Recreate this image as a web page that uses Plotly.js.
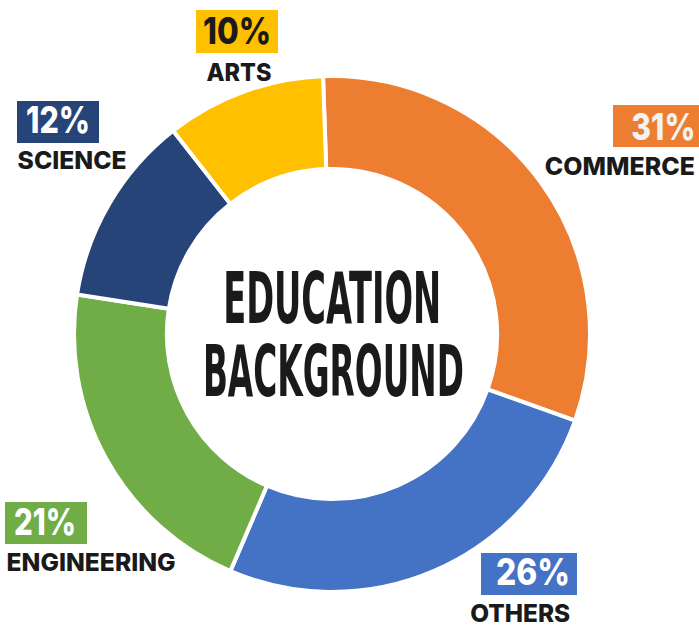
<!DOCTYPE html>
<html>
<head>
<meta charset="utf-8">
<script src="https://cdn.plot.ly/plotly-3.0.1.min.js"></script>
<style>
  html, body { margin: 0; padding: 0; background: #ffffff; }
  #chart { width: 699px; height: 625px; }
</style>
</head>
<body>
<div id="chart"></div>
<script>
// ---- data ----
const categories = ['COMMERCE', 'OTHERS', 'ENGINEERING', 'SCIENCE', 'ARTS'];
const shares = [31, 26, 21, 12, 10];
const sliceColors = ['#ED7D31', '#4472C4', '#70AD47', '#264478', '#FFC000'];
const pctTextColors = ['#F2F2F2', '#FFFFFF', '#FFFFFF', '#FFFFFF', '#1A1A1A'];
const centerLines = ['EDUCATION', 'BACKGROUND'];

// ---- layout helpers (pixel placement of the label blocks) ----
const W = 699, H = 625;
const px = x => x / W;
const py = y => 1 - y / H;

// per-category label placement: box [x0,x1,y0,y1], pct text center/width, name text center/width
const labelPlace = [
  { box: [613, 699, 105, 147], pct: [663, 126.5, 64], name: [620, 166.5, 150] },
  { box: [481, 577, 553, 595], pct: [533, 571.5, 74], name: [520, 613, 100] },
  { box: [5, 87, 502, 544],    pct: [45, 521, 62],    name: [90.5, 562, 169] },
  { box: [17, 99, 101, 143],   pct: [58, 119, 64],    name: [71.5, 160.5, 109] },
  { box: [196, 278, 10, 53],   pct: [237, 30.5, 68],  name: [238.5, 71.5, 65] }
];
const centerPlace = [[332, 298.5, 218], [333.5, 372, 261]];

const labelFont = 'Inter, "Open Sans", Roboto, sans-serif';
const centerFont = '"Liberation Sans Narrow", "DejaVu Sans Condensed", "Liberation Sans", sans-serif';

const shapes = [];
const annotations = [];
const textWidths = [];

categories.forEach((cat, i) => {
  const p = labelPlace[i];
  shapes.push({
    type: 'rect', xref: 'paper', yref: 'paper',
    x0: px(p.box[0]), x1: px(p.box[1]), y0: py(p.box[3]), y1: py(p.box[2]),
    fillcolor: sliceColors[i], line: { width: 0 }, layer: 'above'
  });
  annotations.push({
    xref: 'paper', yref: 'paper', x: px(p.pct[0]), y: py(p.pct[1]),
    xanchor: 'center', yanchor: 'middle', showarrow: false,
    text: shares[i] + '%',
    font: { family: labelFont, size: 37, color: pctTextColors[i], weight: 800 }
  });
  textWidths.push(p.pct[2]);
  annotations.push({
    xref: 'paper', yref: 'paper', x: px(p.name[0]), y: py(p.name[1]),
    xanchor: 'center', yanchor: 'middle', showarrow: false,
    text: cat,
    font: { family: labelFont, size: 24.5, color: '#1A1A1A', weight: 800 }
  });
  textWidths.push(p.name[2]);
});

centerLines.forEach((line, i) => {
  const c = centerPlace[i];
  annotations.push({
    xref: 'paper', yref: 'paper', x: px(c[0]), y: py(c[1]),
    xanchor: 'center', yanchor: 'middle', showarrow: false,
    text: line,
    font: { family: centerFont, size: 71, color: '#1A1A1A', weight: 'bold' }
  });
  textWidths.push(c[2]);
});

// pie geometry: centre (332, 334), radius 258 px
const cx = 332, cy = 334, R = 258;

const trace = {
  type: 'pie',
  labels: categories,
  values: shares,
  sort: false,
  direction: 'clockwise',
  rotation: -2,
  hole: 0.64,
  textinfo: 'none',
  hoverinfo: 'none',
  marker: { colors: sliceColors, line: { color: '#FFFFFF', width: 4 } },
  domain: { x: [px(cx - R), px(cx + R)], y: [py(cy + R), py(cy - R)] },
  showlegend: false
};

const layout = {
  width: W, height: H,
  margin: { l: 0, r: 0, t: 0, b: 0, pad: 0 },
  paper_bgcolor: '#FFFFFF',
  plot_bgcolor: '#FFFFFF',
  showlegend: false,
  shapes: shapes,
  annotations: annotations
};

Plotly.newPlot('chart', [trace], layout, { staticPlot: true, displayModeBar: false }).then(gd => {
  const groups = gd.querySelectorAll('.annotation');
  groups.forEach(g => {
    const idx = +g.getAttribute('data-index');
    const t = g.querySelector('text.annotation-text');
    if (t && textWidths[idx]) {
      t.setAttribute('textLength', textWidths[idx]);
      t.setAttribute('lengthAdjust', 'spacingAndGlyphs');
    }
  });
});
</script>
</body>
</html>
